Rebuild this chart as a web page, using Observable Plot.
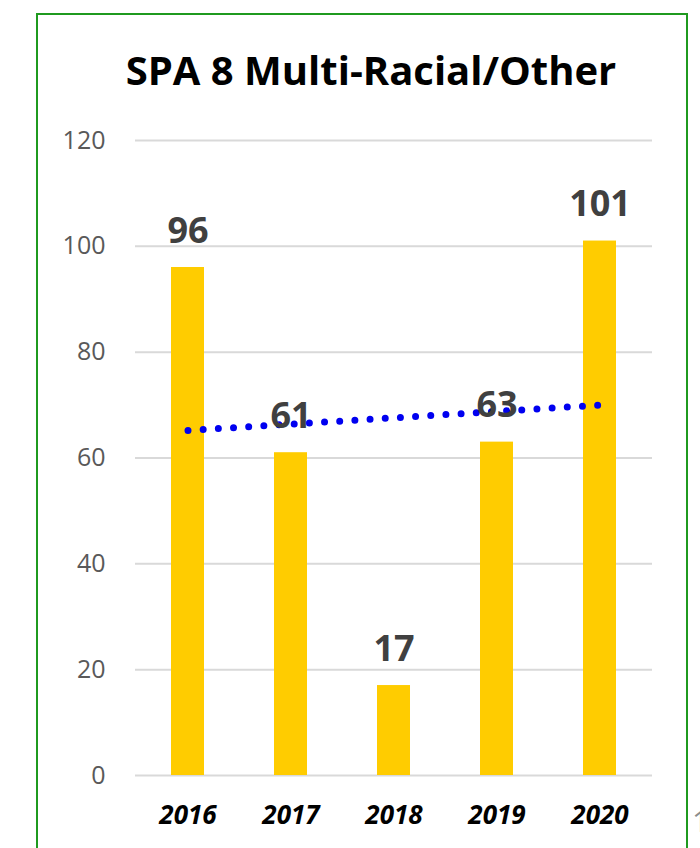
<!DOCTYPE html>
<html>
<head>
<meta charset="utf-8">
<script src="https://cdn.jsdelivr.net/npm/d3@7"></script>
<script src="https://cdn.jsdelivr.net/npm/@observablehq/plot@0.6"></script>
<style>
  html, body { margin: 0; padding: 0; background: #fff; width: 700px; height: 848px; overflow: hidden; }
  #frame { position: absolute; left: 36px; top: 13px; width: 652px; height: 900px; border: 2px solid #1f9a1f; box-sizing: border-box; }
  #title { position: absolute; left: 0; width: 742px; top: 50px; text-align: center; font-family: "Open Sans", sans-serif; font-weight: 700; font-size: 40px; color: #000; line-height: 1; white-space: nowrap; }
  #chart { position: absolute; left: 0; top: 0; }
  #cut { position: absolute; left: 692px; top: 800px; font-family: "Open Sans", sans-serif; font-size: 30px; color: #8c8c8c; }
</style>
</head>
<body>
<div id="frame"></div>
<div id="title">SPA 8 Multi-Racial/Other</div>
<div id="chart"></div>
<div id="cut">1</div>
<script>
const years = ["2016", "2017", "2018", "2019", "2020"];
const counts = [96, 61, 17, 63, 101];
const trendYears = ["2016", "2020"];
const trendValues = [65.2, 70.0];
const yTicks = [0, 20, 40, 60, 80, 100, 120];

const bars = years.map((year, i) => ({year, value: counts[i]}));
const trend = trendYears.map((year, i) => ({year, value: trendValues[i]}));

const chart = Plot.plot({
  width: 700,
  height: 848,
  marginLeft: 135,
  marginRight: 48,
  marginTop: 140,
  marginBottom: 73,
  style: {background: "transparent", overflow: "visible"},
  x: {domain: years, paddingInner: 0.68, paddingOuter: 0.34, label: null},
  y: {domain: [0, 120], label: null},
  marks: [
    Plot.ruleY(yTicks, {stroke: "#d9d9d9", strokeWidth: 2}),
    Plot.barY(bars, {x: "year", y: "value", fill: "#ffcc00"}),
    Plot.line(trend, {x: "year", y: "value", stroke: "#0000f0", strokeWidth: 7, strokeDasharray: "0 15.2", strokeLinecap: "round"}),
    Plot.text(bars, {x: "year", y: "value", text: d => String(d.value), dy: -25, lineAnchor: "bottom", fontSize: 36, fontWeight: 700, fill: "#404040", fontFamily: "Open Sans"}),
    Plot.axisY({ticks: yTicks, tickSize: 0, tickPadding: 30, fontSize: 25, fill: "#595959", fontFamily: "Open Sans", label: null}),
    Plot.axisX({tickSize: 0, tickPadding: 30, fontSize: 26, fontWeight: 700, fontStyle: "italic", fill: "#000", fontFamily: "Open Sans", label: null})
  ]
});
document.getElementById("chart").appendChild(chart);
</script>
</body>
</html>
